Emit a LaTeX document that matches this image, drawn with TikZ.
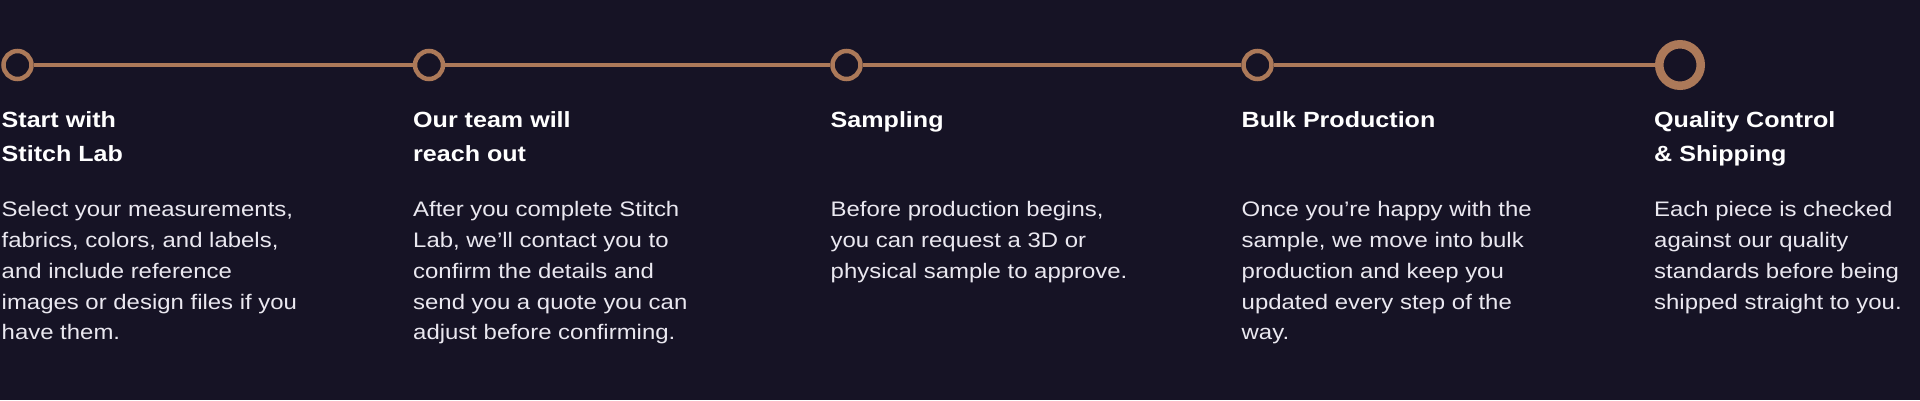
\documentclass[tikz,border=0pt]{standalone}
\usepackage{fontspec}
\setmainfont{Liberation Sans}[FakeStretch=1.14]
\definecolor{bg}{RGB}{22,19,37}
\definecolor{copper}{RGB}{172,121,89}
\definecolor{bodytxt}{RGB}{234,232,240}
\tikzset{
  ring/.style={circle, draw=copper, line width=4.5pt, fill=bg, minimum size=28pt, inner sep=0pt},
  bigring/.style={circle, draw=copper, line width=8.5pt, fill=bg, minimum size=41.5pt, inner sep=0pt},
  link/.style={draw=copper, line width=4.5pt},
  steptitle/.style={anchor=base west, inner sep=0pt, align=left, text=white, font=\fontsize{22}{34}\selectfont\bfseries},
  stepbody/.style={anchor=base west, inner sep=0pt, align=left, text=bodytxt, font=\fontsize{21}{30.8}\selectfont},
}
\begin{document}
\begin{tikzpicture}[x=1pt,y=-1pt]
\fill[bg] (0,0) rectangle (1920,400);
\useasboundingbox (0,0) rectangle (1920,400);
\node[ring] (c1) at (17.5,65) {};
\node[ring] (c2) at (429,65) {};
\node[ring] (c3) at (846.5,65) {};
\node[ring] (c4) at (1257.5,65) {};
\node[bigring] (c5) at (1680,65) {};
\draw[link] (c1) -- (c2);
\draw[link] (c2) -- (c3);
\draw[link] (c3) -- (c4);
\draw[link] (c4) -- (c5);
% anchors are at the baseline of the last line of each node
\node[steptitle] (t1) at (1.5,161.5) {Start with\\Stitch Lab};
\node[steptitle] (t2) at (413,161.5) {Our team will\\reach out};
\node[steptitle] (t3) at (830.5,127.5) {Sampling};
\node[steptitle] (t4) at (1241.5,127.5) {Bulk Production};
\node[steptitle] (t5) at (1654,161.5) {Quality Control\\\& Shipping};
\node[stepbody] (b1) at (1.5,339.9) {Select your measurements,\\fabrics, colors, and labels,\\and include reference\\images or design files if you\\have them.};
\node[stepbody] (b2) at (413,339.9) {After you complete Stitch\\Lab, we’ll contact you to\\confirm the details and\\send you a quote you can\\adjust before confirming.};
\node[stepbody] (b3) at (830.5,278.3) {Before production begins,\\you can request a 3D or\\physical sample to approve.};
\node[stepbody] (b4) at (1241.5,339.9) {Once you’re happy with the\\sample, we move into bulk\\production and keep you\\updated every step of the\\way.};
\node[stepbody] (b5) at (1654,309.1) {Each piece is checked\\against our quality\\standards before being\\shipped straight to you.};
\end{tikzpicture}
\end{document}
